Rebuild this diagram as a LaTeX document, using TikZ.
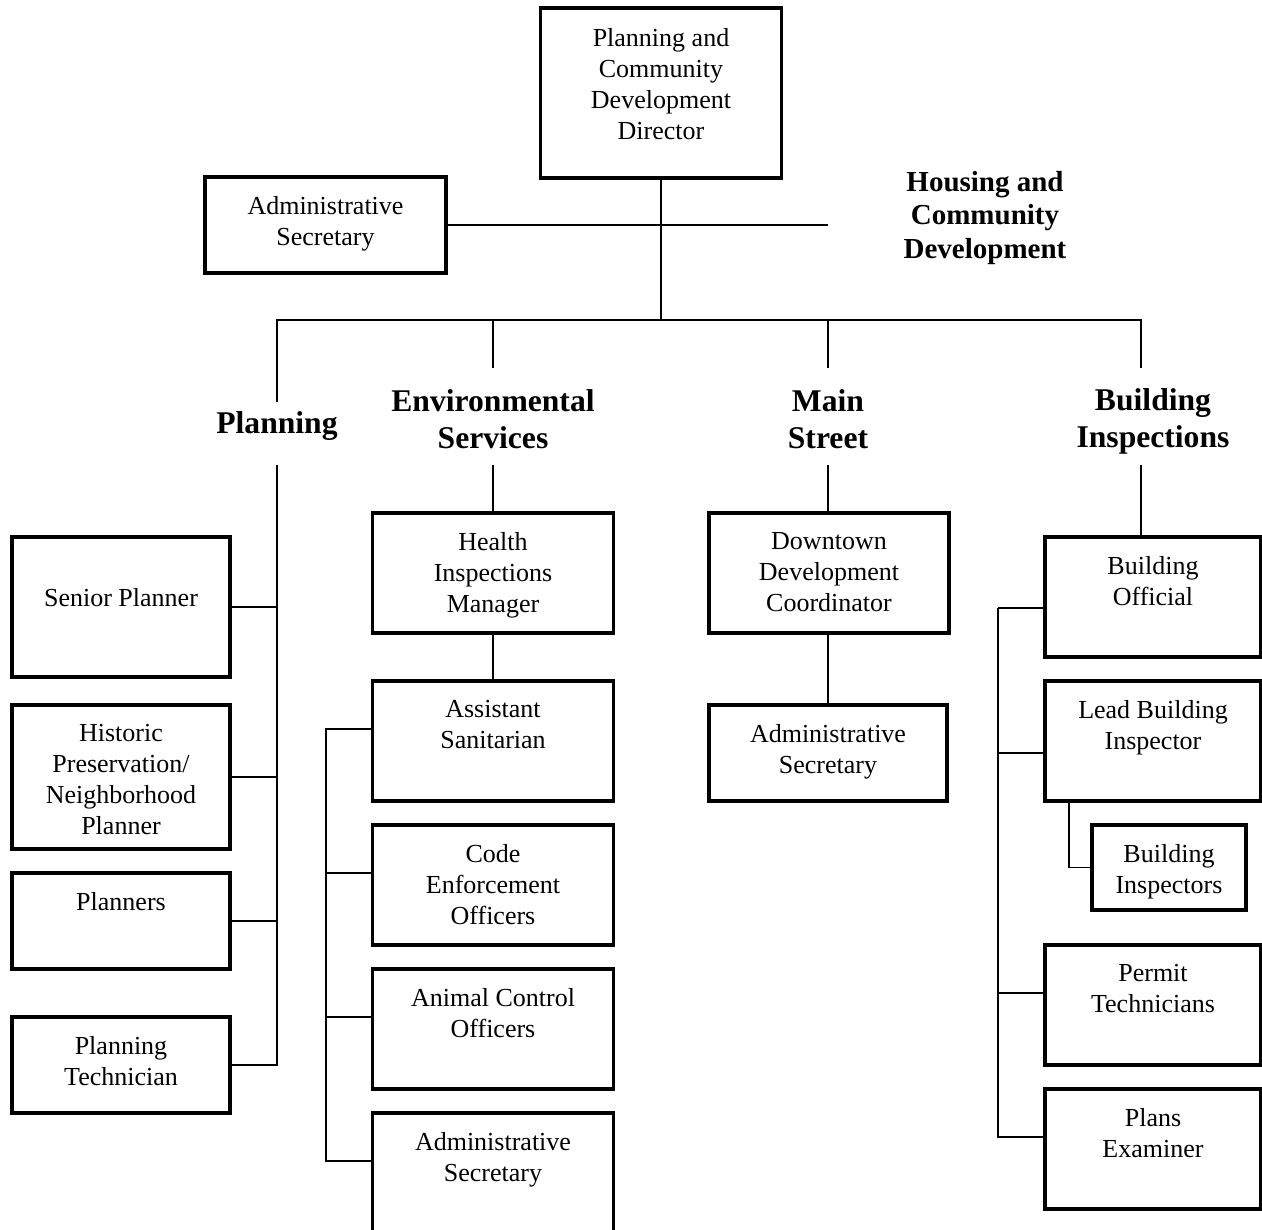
\documentclass[tikz,border=0pt]{standalone}
\usepackage{fontspec}
\setmainfont{Liberation Serif}

\begin{document}
\begin{tikzpicture}[
  x=0.02cm, y=-0.02cm,
  post/.style 2 args={draw, line width=2pt, outer sep=0pt, minimum width=#1*0.02cm, minimum height=#2*0.02cm, inner sep=0pt},
  title/.style={anchor=north, inner sep=0pt, align=center, font=\fontsize{14.8}{17.6}\selectfont},
  unit/.style={inner sep=0pt, align=center, font=\fontsize{18}{21}\selectfont\bfseries},
  link/.style={line width=1.1pt}
]
\useasboundingbox (0,0) rectangle (1262,1230);

% top
\node[post={241}{170}] (dir) at (661,93) {};
\node[title] (dirT) at ([yshift=-0.4cm]dir.north) {Planning and\\Community\\Development\\Director};
\node[post={241}{96}] (adm) at (325.5,225) {};
\node[title] (admT) at ([yshift=-0.38cm]adm.north) {Administrative\\Secretary};
\node[unit, font=\fontsize{16.5}{19.3}\selectfont\bfseries] (hcd) at (985,218) {Housing and\\Community\\Development};

% divisions
\node[unit] (plH) at (277,426) {Planning};
\node[unit] (esH) at (493,419) {Environmental\\Services};
\node[unit] (msH) at (828,419) {Main\\Street};
\node[unit] (biH) at (1153,421) {Building\\Inspections};

% planning
\node[post={218}{140}] (sp) at (121,607) {};
\node[title] (spT) at ([yshift=-1.02cm]sp.north) {Senior Planner};
\node[post={218}{144}] (hp) at (121,777) {};
\node[title] (hpT) at ([yshift=-0.38cm]hp.north) {Historic\\Preservation/\\Neighborhood\\Planner};
\node[post={218}{96}] (pls) at (121,921) {};
\node[title] (plsT) at ([yshift=-0.38cm]pls.north) {Planners};
\node[post={218}{96}] (ptc) at (121,1065) {};
\node[title] (ptcT) at ([yshift=-0.38cm]ptc.north) {Planning\\Technician};

% environmental services
\node[post={241}{120}] (him) at (493,573) {};
\node[title] (himT) at ([yshift=-0.38cm]him.north) {Health\\Inspections\\Manager};
\node[post={241}{120}] (as) at (493,741) {};
\node[title] (asT) at ([yshift=-0.38cm]as.north) {Assistant\\Sanitarian};
\node[post={241}{120}] (ceo) at (493,885) {};
\node[title] (ceoT) at ([yshift=-0.38cm]ceo.north) {Code\\Enforcement\\Officers};
\node[post={241}{120}] (aco) at (493,1029) {};
\node[title] (acoT) at ([yshift=-0.38cm]aco.north) {Animal Control\\Officers};
\node[post={241}{120}] (sec2) at (493,1173) {};
\node[title] (sec2T) at ([yshift=-0.38cm]sec2.north) {Administrative\\Secretary};

% main street
\node[post={240}{120}] (ddc) at (829,573) {};
\node[title] (ddcT) at ([yshift=-0.38cm]ddc.north) {Downtown\\Development\\Coordinator};
\node[post={238}{96}] (sec3) at (828,753) {};
\node[title] (sec3T) at ([yshift=-0.38cm]sec3.north) {Administrative\\Secretary};

% building inspections
\node[post={216}{120}] (bo) at (1153,597) {};
\node[title] (boT) at ([yshift=-0.38cm]bo.north) {Building\\Official};
\node[post={216}{120}] (lbi) at (1153,741) {};
\node[title] (lbiT) at ([yshift=-0.38cm]lbi.north) {Lead Building\\Inspector};
\node[post={154}{85}] (bins) at (1169,867.5) {};
\node[title] (binsT) at ([yshift=-0.38cm]bins.north) {Building\\Inspectors};
\node[post={216}{120}] (pt) at (1153,1005) {};
\node[title] (ptT) at ([yshift=-0.38cm]pt.north) {Permit\\Technicians};
\node[post={216}{120}] (pe) at (1153,1149) {};
\node[title] (peT) at ([yshift=-0.38cm]pe.north) {Plans\\Examiner};

% connectors
\coordinate (hub) at (661,320);
\coordinate (hcdL) at (828,225);
\coordinate (plT) at (277,320);
\coordinate (biT) at (1141,320);
\coordinate (plD) at (277,402);
\coordinate (esD) at (493,368);
\coordinate (msD) at (828,368);
\coordinate (biD) at (1141,368);
\coordinate (plS) at (277,465);
\coordinate (esS) at (493,465);
\coordinate (msS) at (828,465);
\coordinate (biS) at (1141,465);
\coordinate (esR) at (326,729);
\coordinate (biR) at (998,608);

\draw[link] (dir) -- (hub);
\draw[link] (adm) -- (hcdL);
\draw[link] (plD) -- (plT) -- (biT) -- (biD);
\draw[link] (esD) -- (esD |- hub);
\draw[link] (msD) -- (msD |- hub);

\foreach \b in {sp,hp,pls,ptc}
  \draw[link] (\b.east) -| (plS);

\draw[link] (esS) -- (him);
\draw[link] (him) -- (as);
\foreach \b in {as,ceo,aco,sec2}
  \draw[link] ([yshift=-0.96cm]\b.north west) -| (esR);

\draw[link] (msS) -- (msS |- ddc.north);
\draw[link] (ddc.south -| sec3) -- (sec3);

\draw[link] (biS) -- (biS |- bo.north);
\draw[link] (biR) -- ([yshift=-1.42cm]bo.north west);
\foreach \b/\d in {lbi/1.44,pt/0.96,pe/0.96}
  \draw[link] ([yshift=-\d cm]\b.north west) -| (biR);
\draw[link] ([xshift=0.48cm]lbi.south west) |- (bins.west);
\end{tikzpicture}
\end{document}
